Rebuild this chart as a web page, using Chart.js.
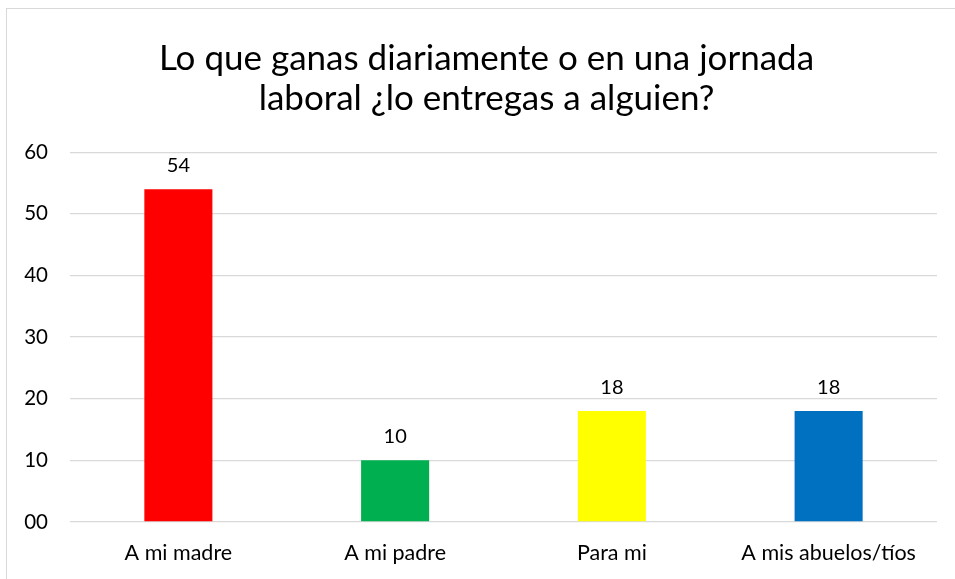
<!DOCTYPE html>
<html>
<head>
<meta charset="utf-8">
<script src="https://cdn.jsdelivr.net/npm/chart.js@4/dist/chart.umd.min.js"></script>
<style>
html,body{margin:0;padding:0;background:#fff;overflow:hidden;}
#wrap{position:absolute;left:0;top:0;width:955px;height:579px;}
#frame{position:absolute;left:6px;top:8px;width:980px;height:600px;border:1.5px solid #d9d9d9;box-sizing:border-box;}
canvas{position:absolute;left:0;top:0;}
</style>
</head>
<body>
<div id="wrap">
<div id="frame"></div>
<canvas id="c" width="955" height="579"></canvas>
</div>
<script>
const titleLines = ["Lo que ganas diariamente o en una jornada", "laboral ¿lo entregas a alguien?"];
const categories = ["A mi madre", "A mi padre", "Para mi", "A mis abuelos/tíos"];
const values = [54, 10, 18, 18];
const barColors = ["#FF0000", "#00B050", "#FFFF00", "#0070C0"];
const yTicks = [0, 10, 20, 30, 40, 50, 60];

const FONT = "Lato, 'Open Sans', sans-serif";

const dataLabels = {
  id: 'dataLabels',
  afterDatasetsDraw(chart) {
    const ctx = chart.ctx;
    const meta = chart.getDatasetMeta(0);
    ctx.save();
    ctx.font = "20px " + FONT;
    ctx.fillStyle = "#000";
    ctx.textAlign = "center";
    ctx.textBaseline = "middle";
    meta.data.forEach((bar, i) => {
      ctx.fillText(String(values[i]), bar.x, bar.y - 24);
    });
    ctx.restore();
  }
};

// centre the title over the region from the frame's inner left to the plot's right edge
const titleShift = {
  id: 'titleShift',
  afterLayout(chart) {
    const tb = chart.titleBlock;
    if (tb) {
      tb.left = 36;
      tb.right = chart.chartArea.right;
      tb.width = tb.right - tb.left;
    }
  }
};

new Chart(document.getElementById('c'), {
  type: 'bar',
  data: {
    labels: categories,
    datasets: [{
      data: values,
      backgroundColor: barColors,
      borderWidth: 0,
      categoryPercentage: 1,
      barPercentage: 0.314
    }]
  },
  options: {
    responsive: false,
    animation: false,
    devicePixelRatio: 1,
    layout: { padding: { left: 0, right: 18, top: 0, bottom: 0 } },
    plugins: {
      legend: { display: false },
      tooltip: { enabled: false },
      title: {
        display: true,
        text: titleLines,
        color: "#000",
        font: { family: FONT, size: 35, weight: 'normal', lineHeight: 1.16 },
        padding: { top: 38, bottom: 33 }
      }
    },
    scales: {
      x: {
        grid: { display: false, drawTicks: false },
        border: { display: false },
        ticks: { color: "#000", font: { family: FONT, size: 21.5 }, padding: 18 },
        afterFit(s) { s.height = 57; }
      },
      y: {
        min: 0, max: 60,
        afterBuildTicks(s) { s.ticks = yTicks.map(v => ({ value: v })); },
        grid: { color: "#d9d9d9", lineWidth: 1.3, drawTicks: false },
        border: { display: false },
        ticks: {
          color: "#000", font: { family: FONT, size: 20.5 }, padding: 22,
          callback: v => v === 0 ? "00" : String(v)
        },
        afterFit(s) { s.width = 70; }
      }
    }
  },
  plugins: [dataLabels, titleShift]
});
</script>
</body>
</html>
